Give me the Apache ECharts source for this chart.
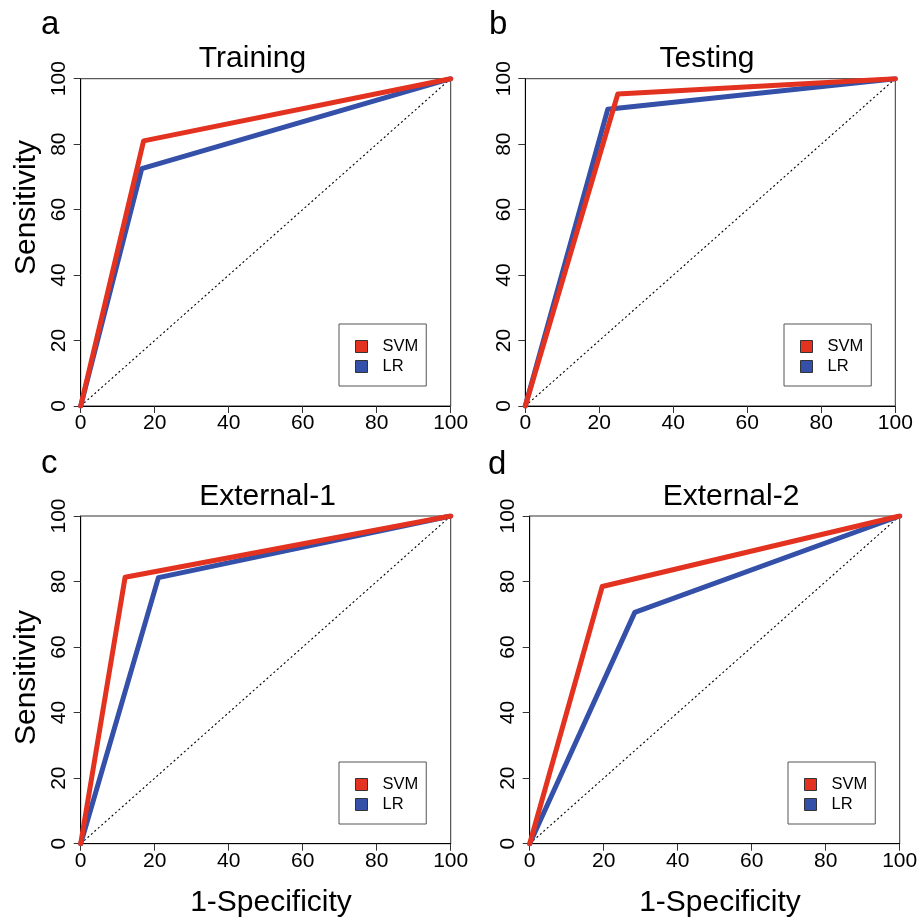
<!DOCTYPE html>
<html>
<head>
<meta charset="utf-8">
<script src="https://cdn.jsdelivr.net/npm/echarts@6/dist/echarts.min.js"></script>
<style>html,body{margin:0;padding:0;background:#fff}#c{width:921px;height:918px}</style>
</head>
<body>
<div id="c"></div>
<script>
// ---- data ----
const panelTitles = ['Training', 'Testing', 'External-1', 'External-2'];
const panelLetters = ['a', 'b', 'c', 'd'];
const seriesNames = ['SVM', 'LR'];
const tickValues = [0, 20, 40, 60, 80, 100];
const trainingSVM = [[0, 0], [17, 81], [100, 100]];
const trainingLR = [[0, 0], [16.5, 72.5], [100, 100]];
const testingSVM = [[0, 0], [25, 95.3], [100, 100]];
const testingLR = [[0, 0], [22.3, 90.7], [100, 100]];
const external1SVM = [[0, 0], [12, 81.3], [100, 100]];
const external1LR = [[0, 0], [21, 81.2], [100, 100]];
const external2SVM = [[0, 0], [19.6, 78.5], [100, 100]];
const external2LR = [[0, 0], [28.4, 70.6], [100, 100]];
const diagonal = [[0, 0], [100, 100]];
const xAxisName = '1-Specificity';
const yAxisName = 'Sensitivity';

// ---- layout / style ----
const FONT = '"Liberation Sans", Arial, Helvetica, sans-serif';
const RED = '#E3321F', BLUE = '#3450A8';
const grids = [
  {left: 80.7, top: 78.7, width: 370, height: 327.3},
  {left: 525.3, top: 78.7, width: 370, height: 327.3},
  {left: 80.7, top: 516, width: 370, height: 327.7},
  {left: 529.7, top: 516, width: 370, height: 327.7}
];
const legendPos = [
  {left: 339, top: 324},
  {left: 784, top: 324},
  {left: 339, top: 762},
  {left: 788, top: 762}
];
const titlePos = [[252.5, 59], [707, 59], [267.5, 496.5], [731, 496.5]];
const letterPos = [[41, 25], [489, 25], [41, 464], [488, 465]];
const svmData = [trainingSVM, testingSVM, external1SVM, external2SVM];
const lrData = [trainingLR, testingLR, external1LR, external2LR];

const chart = echarts.init(document.getElementById('c'), null, {renderer: 'canvas'});

const xAxes = [], yAxes = [], series = [], legends = [], graphics = [];
grids.forEach((g, i) => {
  const axisCommon = {
    type: 'value', min: 0, max: 100, interval: 20, gridIndex: i,
    axisLine: {show: true, lineStyle: {color: '#000', width: 1}},
    axisTick: {show: true, inside: false, length: 7, lineStyle: {color: '#333', width: 1}},
    splitLine: {show: false},
    axisLabel: {fontFamily: FONT, fontSize: 21, color: '#000', showMinLabel: true, showMaxLabel: true,
      customValues: tickValues},
  };
  xAxes.push(Object.assign({}, axisCommon, {
    position: 'bottom',
    axisLabel: Object.assign({}, axisCommon.axisLabel, {margin: 7})
  }));
  yAxes.push(Object.assign({}, axisCommon, {
    position: 'left',
    axisLabel: Object.assign({}, axisCommon.axisLabel, {margin: 11, rotate: 90})
  }));
  series.push({
    type: 'line', name: 'diag', xAxisIndex: i, yAxisIndex: i, data: diagonal,
    showSymbol: false, silent: true, color: '#000',
    lineStyle: {color: '#000', width: 1.1, type: [2, 2.6]}, z: 1
  });
  series.push({
    type: 'line', name: 'LR', xAxisIndex: i, yAxisIndex: i, data: lrData[i],
    showSymbol: false, color: BLUE, itemStyle: {color: BLUE},
    lineStyle: {color: BLUE, width: 5, cap: 'round', join: 'round'}, z: 2
  });
  series.push({
    type: 'line', name: 'SVM', xAxisIndex: i, yAxisIndex: i, data: svmData[i],
    showSymbol: false, color: RED, itemStyle: {color: RED},
    lineStyle: {color: RED, width: 5, cap: 'round', join: 'round'}, z: 3
  });
  legends.push({
    data: seriesNames, left: legendPos[i].left, top: legendPos[i].top,
    orient: 'vertical', icon: 'rect', itemWidth: 12, itemHeight: 12, itemGap: 3,
    padding: [14, 8, 11, 16], borderColor: '#555', borderWidth: 1,
    backgroundColor: '#fff', selectedMode: false,
    itemStyle: {borderColor: '#333', borderWidth: 1},
    textStyle: {fontFamily: FONT, fontSize: 16.5, color: '#000', padding: [0, 0, 0, 10]}
  });
  graphics.push({
    type: 'text', x: titlePos[i][0], y: titlePos[i][1], silent: true,
    style: {text: panelTitles[i], fontFamily: FONT, fontSize: 30, fill: '#000',
      textAlign: 'center', textVerticalAlign: 'middle'}
  });
  graphics.push({
    type: 'text', x: letterPos[i][0], y: letterPos[i][1], silent: true,
    style: {text: panelLetters[i], fontFamily: FONT, fontSize: 33, fill: '#000',
      textAlign: 'left', textVerticalAlign: 'middle'}
  });
});
// axis names
graphics.push({type: 'text', x: 27, y: 207.5, rotation: Math.PI / 2, silent: true,
  style: {text: yAxisName, fontFamily: FONT, fontSize: 30, fill: '#000', textAlign: 'center', textVerticalAlign: 'middle'}});
graphics.push({type: 'text', x: 27, y: 677.5, rotation: Math.PI / 2, silent: true,
  style: {text: yAxisName, fontFamily: FONT, fontSize: 30, fill: '#000', textAlign: 'center', textVerticalAlign: 'middle'}});
graphics.push({type: 'text', x: 271, y: 902.5, silent: true,
  style: {text: xAxisName, fontFamily: FONT, fontSize: 30, fill: '#000', textAlign: 'center', textVerticalAlign: 'middle'}});
graphics.push({type: 'text', x: 720, y: 902.5, silent: true,
  style: {text: xAxisName, fontFamily: FONT, fontSize: 30, fill: '#000', textAlign: 'center', textVerticalAlign: 'middle'}});

chart.setOption({
  animation: false,
  backgroundColor: '#fff',
  grid: grids.map(g => Object.assign({show: true, borderColor: '#333', borderWidth: 1, backgroundColor: 'transparent', containLabel: false}, g)),
  xAxis: xAxes,
  yAxis: yAxes,
  legend: legends,
  series: series,
  graphic: graphics
});
</script>
</body>
</html>
